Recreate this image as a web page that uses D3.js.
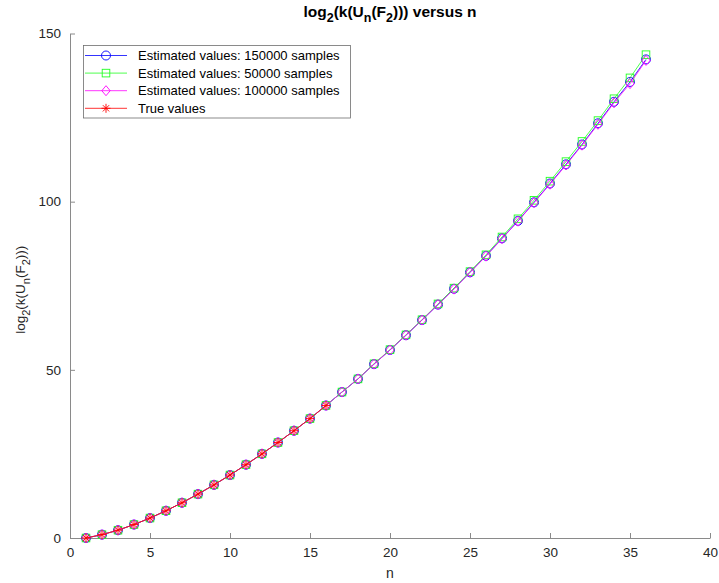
<!DOCTYPE html>
<html>
<head>
<meta charset="utf-8">
<script src="https://cdn.jsdelivr.net/npm/d3@7"></script>
<style>
  html, body { margin: 0; padding: 0; background: #fff; }
  svg text { font-family: "Liberation Sans", Arial, Helvetica, sans-serif; }
</style>
</head>
<body>
<svg id="chart" width="719" height="583"></svg>
<script>
// ---- data ----
const nValues = d3.range(1, 37);
const est150000 = [0, 1, 2.32, 4, 5.93, 8.1, 10.48, 13.05, 15.8, 18.72, 21.8, 25.02, 28.39, 31.9, 35.5, 39.4,
  43.4, 47.3, 51.7, 55.9, 60.3, 64.8, 69.4, 74.1, 79.0, 83.9, 89.1, 94.3, 99.8, 105.4, 111.1, 117.0, 123.3, 129.7, 135.6, 142.3];
const est50000 = [0, 1, 2.32, 4, 5.93, 8.1, 10.48, 13.05, 15.8, 18.72, 21.8, 25.02, 28.39, 31.9, 35.5, 39.4,
  43.4, 47.3, 51.8, 56.0, 60.4, 64.9, 69.6, 74.3, 79.2, 84.2, 89.5, 94.9, 100.4, 106.1, 111.9, 117.9, 124.1, 130.6, 136.8, 143.7];
const est100000 = [0, 1, 2.32, 4, 5.93, 8.1, 10.48, 13.05, 15.8, 18.72, 21.8, 25.02, 28.39, 31.9, 35.5, 39.4,
  43.4, 47.3, 51.7, 55.9, 60.3, 64.8, 69.4, 74.0, 79.0, 83.8, 89.0, 94.2, 99.7, 105.2, 110.9, 116.8, 123.0, 129.4, 135.1, 142.0];
const trueValues = [0, 1, 2.32, 4, 5.93, 8.1, 10.48, 13.05, 15.8, 18.72, 21.8, 25.02, 28.39, 31.9, 35.5, 39.4];
const xTicks = [0, 5, 10, 15, 20, 25, 30, 35, 40];
const yTicks = [0, 50, 100, 150];
const seriesNames = ["Estimated values: 150000 samples", "Estimated values: 50000 samples",
  "Estimated values: 100000 samples", "True values"];

// ---- layout ----
const svg = d3.select("#chart");
const pL = 70, pR = 710, pT = 33.5, pB = 538;
const x = d3.scaleLinear().domain([0, 40]).range([pL, pR]);
const y = d3.scaleLinear().domain([0, 150]).range([pB, pT]);
const axisColor = "#8a8a8a", textColor = "#262626";

const series = [
  { name: seriesNames[0], values: est150000, color: "#0000ff", marker: "circle" },
  { name: seriesNames[1], values: est50000, color: "#22ff22", marker: "square" },
  { name: seriesNames[2], values: est100000, color: "#ff00ff", marker: "diamond" },
  { name: seriesNames[3], values: trueValues, color: "#ff0000", marker: "star" }
];

// axes
const xAxis = d3.axisBottom(x).tickValues(xTicks).tickSize(-5).tickPadding(9).tickSizeOuter(0);
const yAxis = d3.axisLeft(y).tickValues(yTicks).tickSize(-5).tickPadding(9).tickSizeOuter(0);
const gx = svg.append("g").attr("transform", `translate(0,${pB})`).call(xAxis);
const gy = svg.append("g").attr("transform", `translate(${pL},0)`).call(yAxis);
[gx, gy].forEach(g => {
  g.select(".domain").attr("stroke", axisColor).attr("stroke-width", 1);
  g.selectAll(".tick line").attr("stroke", axisColor);
  g.selectAll(".tick text").attr("fill", textColor).style("font-size", "13.5px");
});

// marker drawing
function drawMarker(g, type, cx, cy, color) {
  if (type === "circle") {
    g.append("circle").attr("cx", cx).attr("cy", cy).attr("r", 4.5)
      .attr("fill", "none").attr("stroke", color).attr("stroke-width", 0.9);
  } else if (type === "square") {
    g.append("rect").attr("x", cx - 3.8).attr("y", cy - 3.8).attr("width", 7.6).attr("height", 7.6)
      .attr("fill", "none").attr("stroke", color).attr("stroke-width", 0.9);
  } else if (type === "diamond") {
    g.append("path").attr("d", `M${cx},${cy - 5}L${cx + 4.2},${cy}L${cx},${cy + 5}L${cx - 4.2},${cy}Z`)
      .attr("fill", "none").attr("stroke", color).attr("stroke-width", 0.9);
  } else if (type === "star") {
    const r = 4.5, d = r * 0.7;
    g.append("path").attr("d",
      `M${cx - r},${cy}L${cx + r},${cy}M${cx},${cy - r}L${cx},${cy + r}` +
      `M${cx - d},${cy - d}L${cx + d},${cy + d}M${cx - d},${cy + d}L${cx + d},${cy - d}`)
      .attr("fill", "none").attr("stroke", color).attr("stroke-width", 0.9);
  }
}

const line = d3.line().x((d, i) => x(nValues[i])).y(d => y(d));
series.forEach(s => {
  const g = svg.append("g");
  g.append("path").attr("d", line(s.values)).attr("fill", "none")
    .attr("stroke", s.color).attr("stroke-width", 0.8);
  s.values.forEach((v, i) => drawMarker(g, s.marker, x(nValues[i]), y(v), s.color));
});

// text with subscripts
function addParts(t, parts, subSize, drop) {
  let shifted = false;
  parts.forEach(p => {
    const ts = t.append("tspan").text(p.t);
    if (p.sub) {
      ts.attr("dy", shifted ? 0 : drop).style("font-size", subSize);
      shifted = true;
    } else {
      if (shifted) ts.attr("dy", -drop);
      shifted = false;
    }
  });
}
const labelParts = [{ t: "log" }, { t: "2", sub: 1 }, { t: "(k(U" }, { t: "n", sub: 1 }, { t: "(F" }, { t: "2", sub: 1 }, { t: ")))" }];

// title
const title = svg.append("text").attr("x", (pL + pR) / 2).attr("y", 17)
  .attr("text-anchor", "middle").attr("fill", "#000").style("font-size", "15.5px").style("font-weight", "bold");
addParts(title, labelParts.concat([{ t: " versus n" }]), "12.5px", 5);

// y label
const ylab = svg.append("text").attr("transform", `translate(25,${(pT + pB) / 2 + 4}) rotate(-90)`)
  .attr("text-anchor", "middle").attr("fill", textColor).style("font-size", "13.5px");
addParts(ylab, labelParts, "11px", 5);

// x label
svg.append("text").attr("x", (pL + pR) / 2).attr("y", 578).attr("text-anchor", "middle")
  .attr("fill", textColor).style("font-size", "14px").text("n");

// legend
const lg = svg.append("g");
lg.append("rect").attr("x", 83.5).attr("y", 45.5).attr("width", 267).attr("height", 72.5)
  .attr("fill", "#fff").attr("stroke", "#6e6e6e").attr("stroke-width", 0.8);
series.forEach((s, i) => {
  const ly = 55.5 + i * 17.6;
  lg.append("line").attr("x1", 85).attr("x2", 127).attr("y1", ly).attr("y2", ly)
    .attr("stroke", s.color).attr("stroke-width", 0.8);
  drawMarker(lg, s.marker, 106, ly, s.color);
  lg.append("text").attr("x", 138).attr("y", ly + 4.5).attr("fill", "#000")
    .style("font-size", "13px").text(s.name);
});
</script>
</body>
</html>
